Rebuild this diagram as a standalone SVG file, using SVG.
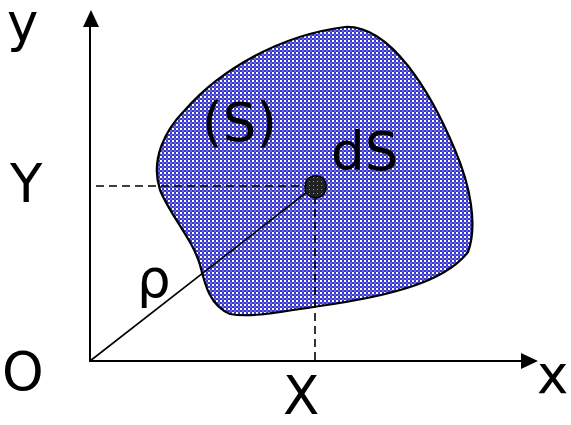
<svg xmlns="http://www.w3.org/2000/svg" width="571" height="425" viewBox="0 0 571 425">
<style>
.lbl{font-family:"DejaVu Sans",Verdana,sans-serif;font-size:53px;fill:#000}
.ax{stroke:#000;stroke-width:2;fill:none}
.dash{stroke:#000;stroke-width:1.6;stroke-dasharray:8,5;fill:none}
</style>
<defs>
<pattern id="chk" width="4" height="4" patternUnits="userSpaceOnUse">
<rect width="4" height="4" fill="#3636cc"/>
<rect x="0" y="0" width="2" height="2" fill="#ffffff"/>
<rect x="2" y="2" width="2" height="2" fill="#6a6adc"/>
</pattern>
<pattern id="dk" width="4" height="4" patternUnits="userSpaceOnUse">
<rect width="4" height="4" fill="#222"/>
<rect x="1" y="1" width="1" height="1" fill="#999"/>
</pattern>
</defs>
<g id="region-S">
<path d="M345,27 C390,25 430,90 455,150 C470,185 478,225 468,252 C445,282 390,296 320,306 C280,312 250,318 230,314 C210,306 205,285 200,265 C193,240 170,215 160,190 C150,160 165,130 185,110 C220,70 280,35 345,27 Z" fill="url(#chk)" stroke="#000" stroke-width="2.2"/>
</g>
<g id="connectors">
<line class="ax" x1="90" y1="362" x2="90" y2="26"/>
<path d="M83,27 L91,10 L99,27 Z" fill="#000"/>
<line class="ax" x1="89" y1="361" x2="522" y2="361"/>
<path d="M521,353 L538,361 L521,369 Z" fill="#000"/>
<line class="dash" x1="96" y1="186" x2="306" y2="186"/>
<line class="dash" x1="315" y1="196" x2="315" y2="362"/>
<line x1="90" y1="361" x2="312" y2="188" stroke="#000" stroke-width="1.6"/>
</g>
<g id="dS">
<path d="M306,181 C309,176 318,173 324,179 C328,186 326,194 320,197 C313,199 306,196 305,189 Z" fill="url(#dk)" stroke="#000" stroke-width="1.5"/>
</g>
<g id="labels">
<text class="lbl" x="7" y="41">y</text>
<text class="lbl" x="10" y="202">Y</text>
<text class="lbl" x="2" y="390">O</text>
<text class="lbl" x="283" y="414">X</text>
<text class="lbl" x="537" y="393">x</text>
<text class="lbl" x="202" y="141">(S)</text>
<text class="lbl" x="331" y="170">dS</text>
<text class="lbl" x="137" y="297">ρ</text>
</g>
</svg>
